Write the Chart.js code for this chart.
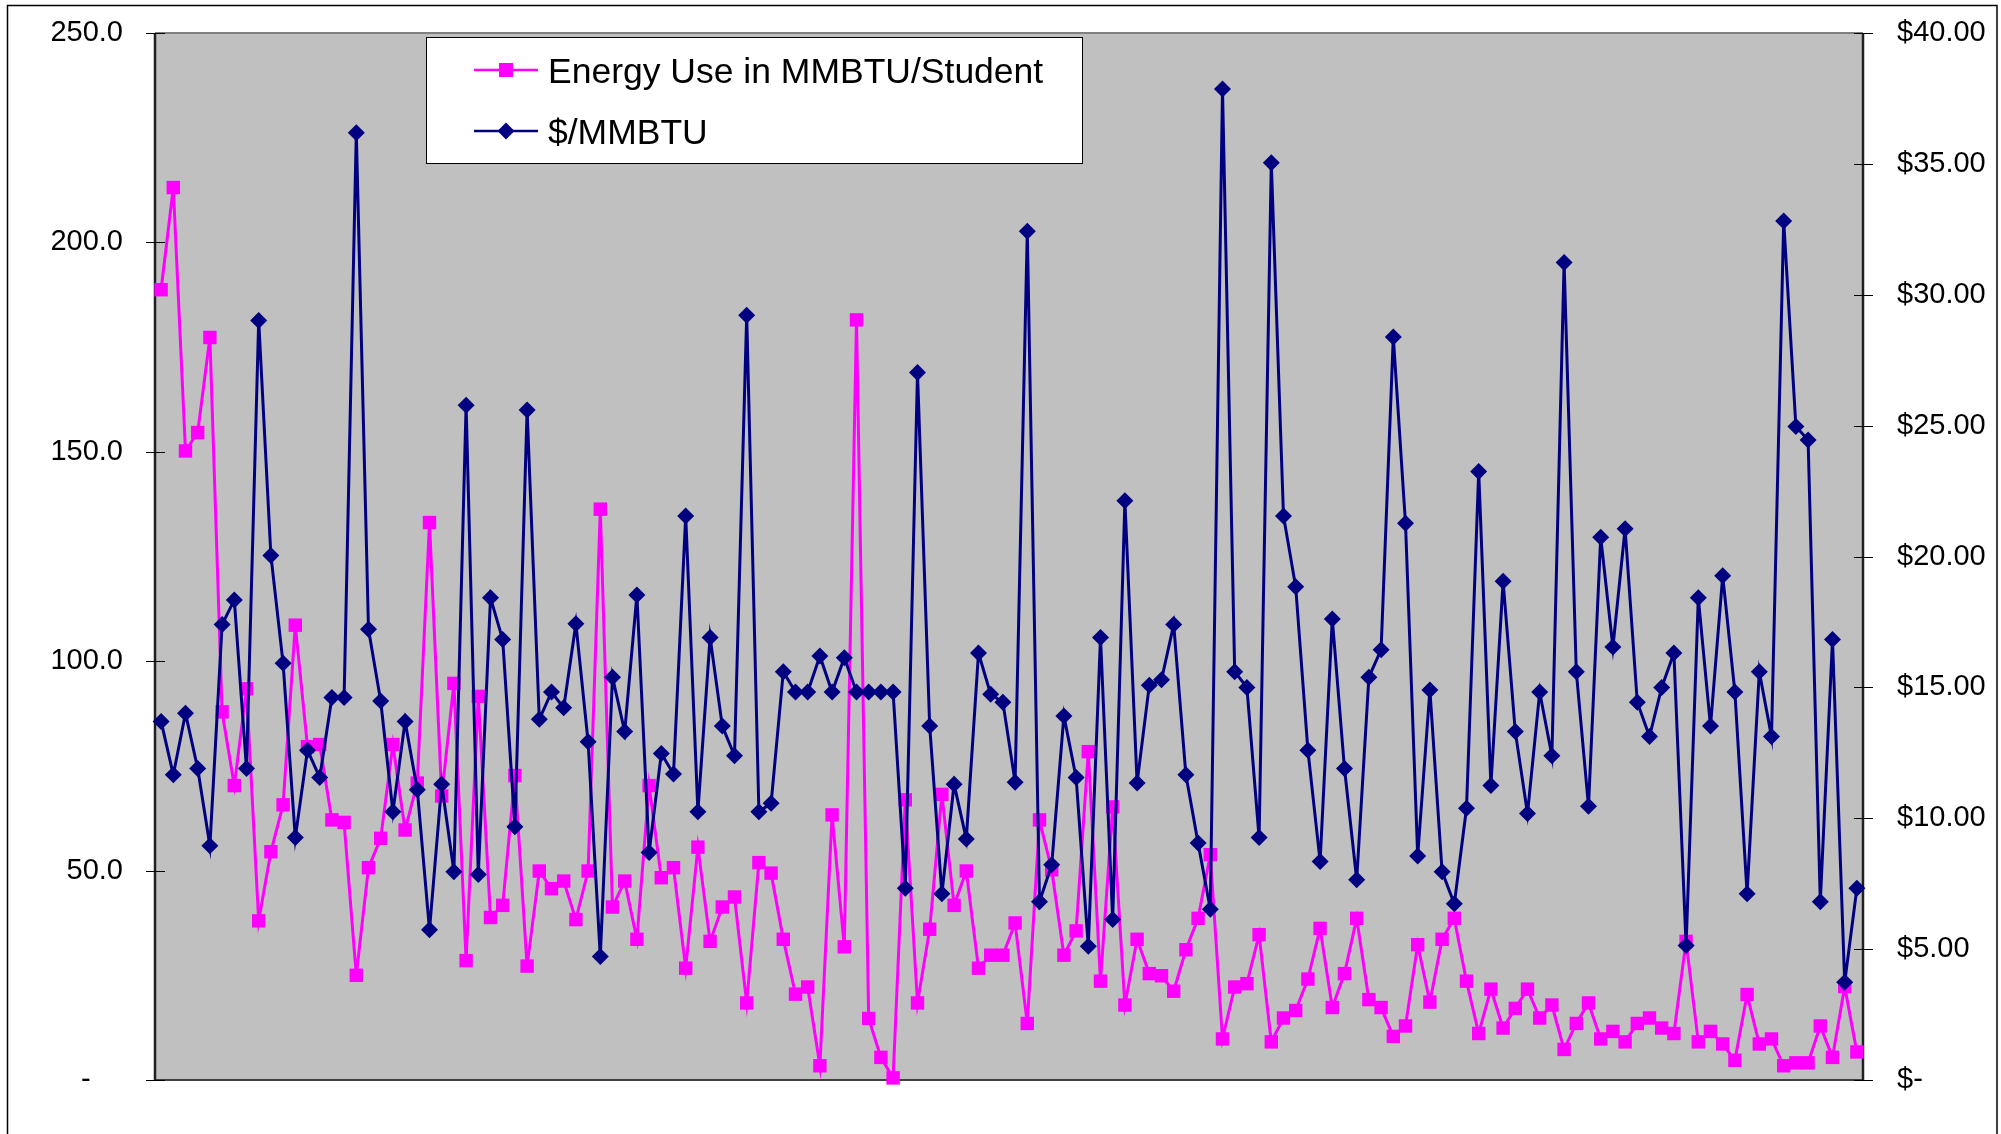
<!DOCTYPE html>
<html>
<head>
<meta charset="utf-8">
<script src="https://cdn.jsdelivr.net/npm/chart.js@4.4.1/dist/chart.umd.min.js"></script>
<style>
  html, body { margin: 0; padding: 0; background: #ffffff; }
  #wrap { width: 2001px; height: 1134px; }
</style>
</head>
<body>
<div id="wrap"><canvas id="c" width="2001" height="1134"></canvas></div>
<script>
// ---- data ----
const seriesNames = ['Energy Use in MMBTU/Student', '$/MMBTU'];

const energyPerStudent = [
  188.7, 213.1, 150.2, 154.6, 177.3, 87.9, 70.3, 93.4, 38.0, 54.5, 65.7, 108.6, 79.6, 80.1, 62.1, 61.5, 25.0, 50.7,
  57.7, 80.1, 59.7, 70.9, 133.1, 67.8, 94.7, 28.5, 91.6, 38.8, 41.7, 72.7, 27.2, 49.9, 45.7, 47.5, 38.3, 49.9,
  136.3, 41.3, 47.5, 33.6, 70.3, 48.3, 50.7, 26.7, 55.6, 33.1, 41.3, 43.7, 18.4, 51.9, 49.4, 33.6, 20.5, 22.2,
  3.4, 63.3, 31.8, 181.5, 14.7, 5.4, 0.5, 66.9, 18.4, 36.0, 68.2, 41.7, 49.9, 26.7, 29.8, 29.8, 37.5, 13.5,
  62.1, 50.2, 29.8, 35.6, 78.4, 23.6, 65.2, 17.9, 33.6, 25.4, 24.9, 21.2, 31.1, 38.6, 53.8, 9.8, 22.2, 23.0,
  34.7, 9.1, 14.8, 16.6, 24.1, 36.2, 17.3, 25.4, 38.6, 19.2, 17.3, 10.4, 12.9, 32.3, 18.6, 33.6, 38.6, 23.6,
  11.1, 21.7, 12.4, 17.1, 21.7, 14.8, 17.9, 7.3, 13.5, 18.4, 9.8, 11.6, 9.1, 13.5, 14.8, 12.4, 11.1, 33.1,
  9.1, 11.6, 8.6, 4.7, 20.4, 8.6, 9.8, 3.4, 4.1, 4.1, 12.9, 5.4, 22.3, 6.7
];

const dollarsPerMMBTU = [
  13.70, 11.66, 14.01, 11.90, 8.95, 17.40, 18.34, 11.90, 29.02, 20.04, 15.92, 9.26, 12.60, 11.56, 14.61, 14.61, 36.19, 17.22,
  14.48, 10.25, 13.70, 11.09, 5.74, 11.30, 7.96, 25.78, 7.85, 18.42, 16.83, 9.68, 25.60, 13.78, 14.82, 14.22, 17.43, 12.92,
  4.72, 15.39, 13.31, 18.53, 8.69, 12.47, 11.69, 21.55, 10.25, 16.91, 13.52, 12.39, 29.22, 10.25, 10.57, 15.60, 14.82, 14.82,
  16.20, 14.82, 16.13, 14.82, 14.82, 14.82, 14.82, 7.33, 27.03, 13.52, 7.12, 11.30, 9.21, 16.31, 14.74, 14.43, 11.38, 32.43,
  6.81, 8.22, 13.91, 11.56, 5.11, 16.91, 6.13, 22.13, 11.35, 15.08, 15.29, 17.40, 11.66, 9.05, 6.52, 37.86, 15.60, 15.00,
  9.26, 35.04, 21.55, 18.84, 12.60, 8.35, 17.61, 11.90, 7.65, 15.39, 16.44, 28.39, 21.27, 8.56, 14.90, 7.96, 6.73, 10.38,
  23.25, 11.25, 19.05, 13.31, 10.18, 14.82, 12.39, 31.23, 15.60, 10.46, 20.74, 16.54, 21.06, 14.43, 13.12, 15.00, 16.31, 5.14,
  18.42, 13.52, 19.26, 14.82, 7.12, 15.60, 13.12, 32.82, 24.97, 24.45, 6.81, 16.83, 3.73, 7.33
];

// one (unlabelled) category per school
const categories = energyPerStudent.map((_, i) => String(i + 1));

const leftTicks = [0, 50, 100, 150, 200, 250];
const leftTickLabels = ['-    ', '50.0', '100.0', '150.0', '200.0', '250.0'];
const rightTicks = [0, 5, 10, 15, 20, 25, 30, 35, 40];
const rightTickLabels = ['$-', '$5.00', '$10.00', '$15.00', '$20.00', '$25.00', '$30.00', '$35.00', '$40.00'];

// ---- styling ----
const FONT = "'Liberation Sans', Arial, Helvetica, sans-serif";
const PINK = '#FF00FF';
const NAVY = '#000080';

const framePlugin = {
  id: 'frame',
  beforeDraw(chart) {
    const ctx = chart.ctx;
    const a = chart.chartArea;
    ctx.save();
    ctx.fillStyle = '#ffffff';
    ctx.fillRect(0, 0, chart.width, chart.height);
    ctx.fillStyle = '#C0C0C0';
    ctx.fillRect(a.left, a.top, a.right - a.left, a.bottom - a.top);
    ctx.strokeStyle = '#000000';
    ctx.lineWidth = 1.5;
    ctx.strokeRect(7.5, 5.5, 1989.5, 1160);
    ctx.restore();
  },
  beforeDatasetsDraw(chart) {
    const ctx = chart.ctx;
    const a = chart.chartArea;
    ctx.save();
    ctx.strokeStyle = '#808080';
    ctx.lineWidth = 2;
    ctx.beginPath();
    ctx.moveTo(a.left, a.top); ctx.lineTo(a.right, a.top);
    ctx.stroke();
    ctx.strokeStyle = '#404040';
    ctx.beginPath();
    ctx.moveTo(a.left, a.bottom); ctx.lineTo(a.right, a.bottom);
    ctx.stroke();
    ctx.strokeStyle = '#202020';
    ctx.lineWidth = 2.5;
    ctx.beginPath();
    ctx.moveTo(a.left, a.top); ctx.lineTo(a.left, a.bottom);
    ctx.moveTo(a.right, a.top); ctx.lineTo(a.right, a.bottom);
    ctx.stroke();
    // crossing tick marks
    ctx.strokeStyle = '#000000';
    ctx.lineWidth = 1;
    const ys = chart.scales.y, ys1 = chart.scales.y1;
    ctx.beginPath();
    ys.ticks.forEach(t => {
      const py = Math.round(ys.getPixelForValue(t.value)) + 0.5;
      ctx.moveTo(a.left - 9, py); ctx.lineTo(a.left + 10, py);
    });
    ys1.ticks.forEach(t => {
      const py = Math.round(ys1.getPixelForValue(t.value)) + 0.5;
      ctx.moveTo(a.right - 9, py); ctx.lineTo(a.right + 10, py);
    });
    ctx.stroke();
    ctx.restore();
  },
  afterDraw(chart) {
    const ctx = chart.ctx;
    ctx.save();
    ctx.fillStyle = '#ffffff';
    ctx.fillRect(426, 37, 656, 126);
    ctx.strokeStyle = '#000000';
    ctx.lineWidth = 1;
    ctx.strokeRect(426.5, 37.5, 656, 126);
    const rows = [70, 131];
    chart.data.datasets.forEach((ds, i) => {
      const y = rows[i];
      ctx.strokeStyle = ds.borderColor;
      ctx.lineWidth = 2.5;
      ctx.beginPath();
      ctx.moveTo(474, y); ctx.lineTo(538, y);
      ctx.stroke();
      ctx.fillStyle = ds.borderColor;
      ctx.beginPath();
      if (ds.pointStyle === 'rect') {
        ctx.rect(506 - 7, y - 7, 14, 14);
      } else {
        ctx.moveTo(506 - 8.5, y); ctx.lineTo(506, y - 8.5);
        ctx.lineTo(506 + 8.5, y); ctx.lineTo(506, y + 8.5);
        ctx.closePath();
      }
      ctx.fill();
      ctx.fillStyle = '#000000';
      ctx.font = '35.5px ' + FONT;
      ctx.textAlign = 'left';
      ctx.textBaseline = 'alphabetic';
      ctx.fillText(ds.label, 548, y + 13);
    });
    ctx.restore();
  }
};

new Chart(document.getElementById('c'), {
  type: 'line',
  data: {
    labels: categories,
    datasets: [
      {
        label: seriesNames[0],
        data: energyPerStudent,
        yAxisID: 'y',
        borderColor: PINK,
        backgroundColor: PINK,
        borderWidth: 3,
        pointStyle: 'rect',
        pointRadius: 9.5,
        pointBorderWidth: 0,
        pointBackgroundColor: PINK,
        pointBorderColor: PINK,
        tension: 0,
        clip: false,
        order: 2
      },
      {
        label: seriesNames[1],
        data: dollarsPerMMBTU,
        yAxisID: 'y1',
        borderColor: NAVY,
        backgroundColor: NAVY,
        borderWidth: 3,
        pointStyle: 'rectRot',
        pointRadius: 8.5,
        pointBorderWidth: 0,
        pointBackgroundColor: NAVY,
        pointBorderColor: NAVY,
        tension: 0,
        clip: false,
        order: 1
      }
    ]
  },
  options: {
    responsive: false,
    animation: false,
    devicePixelRatio: 1,
    layout: { padding: { left: 0, right: 0, top: 33, bottom: 54 } },
    plugins: {
      legend: { display: false },
      tooltip: { enabled: false },
      title: { display: false }
    },
    scales: {
      x: {
        type: 'category',
        display: false,
        offset: true,
        grid: { display: false }
      },
      y: {
        position: 'left',
        min: 0,
        max: 250,
        afterBuildTicks(scale) { scale.ticks = leftTicks.map(v => ({ value: v })); },
        afterFit(scale) { scale.width = 155; },
        grid: { display: true, drawOnChartArea: false, drawTicks: true, tickLength: 32, color: 'rgba(0,0,0,0)' },
        border: { display: false },
        ticks: {
          padding: 0,
          color: '#000000',
          font: { family: FONT, size: 29 },
          callback: (v) => leftTickLabels[leftTicks.indexOf(v)]
        }
      },
      y1: {
        position: 'right',
        min: 0,
        max: 40,
        afterBuildTicks(scale) { scale.ticks = rightTicks.map(v => ({ value: v })); },
        afterFit(scale) { scale.width = 138; },
        grid: { display: true, drawOnChartArea: false, drawTicks: true, tickLength: 34, color: 'rgba(0,0,0,0)' },
        border: { display: false },
        ticks: {
          padding: 0,
          color: '#000000',
          font: { family: FONT, size: 29 },
          callback: (v) => rightTickLabels[rightTicks.indexOf(v)]
        }
      }
    }
  },
  plugins: [framePlugin]
});
</script>
</body>
</html>
